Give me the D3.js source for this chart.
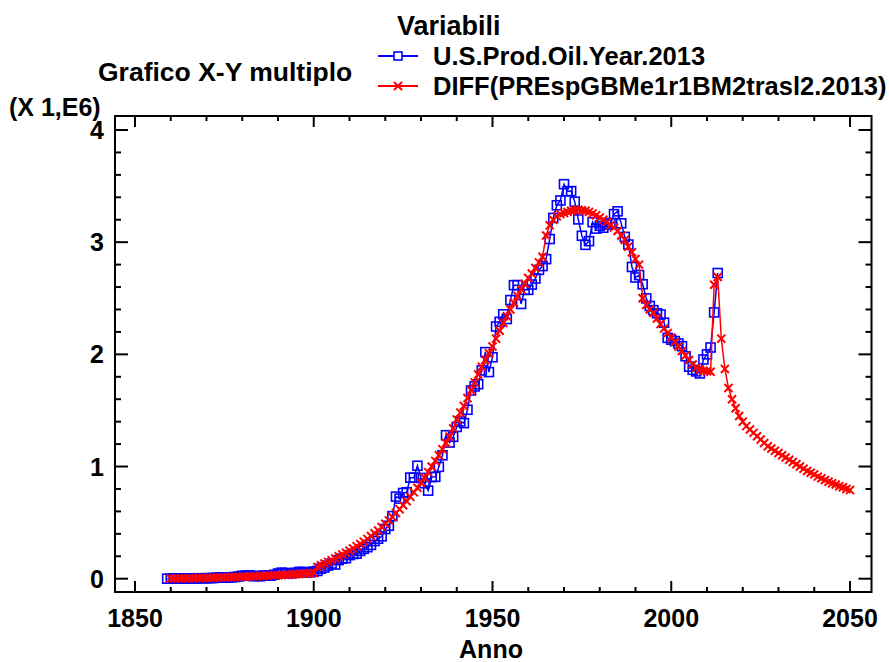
<!DOCTYPE html>
<html>
<head>
<meta charset="utf-8">
<script src="https://cdn.jsdelivr.net/npm/d3@7/dist/d3.min.js"></script>
<style>
  body { margin: 0; background: #fff; }
  text { font-family: "Liberation Sans", Arial, sans-serif; font-weight: bold; fill: #000; }
</style>
</head>
<body>
<svg id="chart" width="889" height="662"></svg>
<script>
// U.S. crude oil production per year (millions of thousand barrels), 1859-2013
const prodStart = 1859;
const prodValues = [
  0.000, 0.001, 0.002, 0.003, 0.003, 0.002, 0.002, 0.004, 0.003, 0.004,
  0.004, 0.005, 0.005, 0.006, 0.010, 0.011, 0.009, 0.009, 0.013, 0.015,
  0.020, 0.026, 0.028, 0.030, 0.023, 0.024, 0.022, 0.028, 0.028, 0.028,
  0.035, 0.046, 0.054, 0.051, 0.048, 0.049, 0.053, 0.061, 0.060, 0.055,
  0.057, 0.064, 0.069, 0.089, 0.100, 0.117, 0.135, 0.126, 0.166, 0.179,
  0.183, 0.210, 0.220, 0.223, 0.248, 0.266, 0.281, 0.301, 0.335, 0.356,
  0.378, 0.443, 0.472, 0.558, 0.732, 0.714, 0.764, 0.771, 0.901, 0.901,
  1.007, 0.898, 0.851, 0.785, 0.906, 0.908, 0.997, 1.100, 1.279, 1.214,
  1.265, 1.353, 1.402, 1.387, 1.506, 1.678, 1.714, 1.734, 1.857, 2.020,
  1.842, 1.974, 2.248, 2.290, 2.357, 2.315, 2.484, 2.617, 2.617, 2.449,
  2.575, 2.575, 2.622, 2.676, 2.753, 2.787, 2.849, 3.028, 3.216, 3.329,
  3.372, 3.517, 3.454, 3.455, 3.361, 3.203, 3.057, 2.976, 3.009, 3.178,
  3.121, 3.146, 3.129, 3.157, 3.171, 3.250, 3.275, 3.168, 3.047, 2.979,
  2.779, 2.685, 2.707, 2.625, 2.499, 2.431, 2.394, 2.366, 2.355, 2.282,
  2.147, 2.131, 2.118, 2.097, 2.073, 1.983, 1.890, 1.862, 1.848, 1.830,
  1.954, 2.000, 2.061, 2.374, 2.725
];

// Yearly differences of the fitted model, 1860-2050
const modelStart = 1860;
const modelValues = [
  // 1860-1899
  0.002, 0.002, 0.003, 0.003, 0.004, 0.004, 0.005, 0.005, 0.006, 0.007,
  0.007, 0.008, 0.009, 0.010, 0.011, 0.012, 0.013, 0.014, 0.015, 0.016,
  0.017, 0.018, 0.020, 0.021, 0.022, 0.024, 0.025, 0.027, 0.028, 0.030,
  0.031, 0.033, 0.034, 0.036, 0.038, 0.040, 0.042, 0.044, 0.046, 0.048,
  // 1900-1939
  0.050, 0.105, 0.120, 0.135, 0.150, 0.165, 0.180, 0.200, 0.215, 0.232,
  0.250, 0.270, 0.290, 0.310, 0.330, 0.355, 0.380, 0.405, 0.430, 0.460,
  0.490, 0.520, 0.550, 0.585, 0.620, 0.655, 0.690, 0.730, 0.770, 0.810,
  0.855, 0.900, 0.950, 1.000, 1.050, 1.100, 1.155, 1.210, 1.265, 1.340,
  // 1940-1979
  1.420, 1.480, 1.540, 1.610, 1.680, 1.750, 1.820, 1.890, 1.950, 2.010,
  2.070, 2.140, 2.210, 2.280, 2.340, 2.400, 2.460, 2.520, 2.580, 2.630,
  2.680, 2.720, 2.770, 2.820, 2.870, 3.060, 3.150, 3.200, 3.230, 3.250,
  3.260, 3.270, 3.280, 3.285, 3.290, 3.285, 3.280, 3.270, 3.255, 3.240,
  // 1980-2019
  3.220, 3.200, 3.180, 3.150, 3.130, 3.100, 3.060, 3.020, 2.960, 2.910,
  2.850, 2.800, 2.500, 2.440, 2.400, 2.370, 2.320, 2.270, 2.230, 2.190,
  2.150, 2.110, 2.070, 2.030, 1.990, 1.950, 1.910, 1.880, 1.865, 1.855,
  1.850, 1.845, 2.620, 2.690, 2.140, 1.870, 1.700, 1.600, 1.520, 1.450,
  // 2020-2050
  1.400, 1.360, 1.330, 1.300, 1.270, 1.240, 1.210, 1.180, 1.160, 1.140,
  1.120, 1.100, 1.080, 1.060, 1.040, 1.020, 1.000, 0.980, 0.960, 0.945,
  0.930, 0.910, 0.895, 0.880, 0.865, 0.850, 0.840, 0.825, 0.815, 0.800,
  0.790
];

const xTicks = [1850, 1900, 1950, 2000, 2050];
const yTicks = [0, 1, 2, 3, 4];
const seriesNames = ["U.S.Prod.Oil.Year.2013", "DIFF(PREspGBMe1r1BM2trasl2.2013)"];
const seriesColors = ["#0000ff", "#ff0000"];

const prod = prodValues.map((v, i) => ({ year: prodStart + i, value: v }));
const model = modelValues.map((v, i) => ({ year: modelStart + i, value: v }));

const svg = d3.select("#chart");
const frame = { left: 115, right: 871.5, top: 116, bottom: 592 };

const x = d3.scaleLinear().domain([1850, 2050]).range([135, 850]);
const y = d3.scaleLinear().domain([0, 4]).range([578.7, 130]);

// data layers
const line = d3.line().x(d => x(d.year)).y(d => y(d.value));
const sq = 9;

const gProd = svg.append("g");
gProd.append("path").datum(prod)
  .attr("d", line).attr("fill", "none")
  .attr("stroke", seriesColors[0]).attr("stroke-width", 1.5);
gProd.selectAll("rect").data(prod).join("rect")
  .attr("x", d => x(d.year) - sq / 2).attr("y", d => y(d.value) - sq / 2)
  .attr("width", sq).attr("height", sq)
  .attr("fill", "none").attr("stroke", seriesColors[0]).attr("stroke-width", 1.6);

const cross = d3.symbol().type(d3.symbolX).size(44);
const gModel = svg.append("g");
gModel.append("path").datum(model)
  .attr("d", line).attr("fill", "none")
  .attr("stroke", seriesColors[1]).attr("stroke-width", 1.5);
gModel.selectAll("path.mk").data(model).join("path")
  .attr("class", "mk")
  .attr("transform", d => `translate(${x(d.year)},${y(d.value)})`)
  .attr("d", cross)
  .attr("fill", "none").attr("stroke", seriesColors[1]).attr("stroke-width", 2);

// frame
svg.append("rect")
  .attr("x", frame.left).attr("y", frame.top)
  .attr("width", frame.right - frame.left).attr("height", frame.bottom - frame.top)
  .attr("fill", "none").attr("stroke", "#000").attr("stroke-width", 2);

// x ticks (bottom and top, pointing inward)
const xMinor = d3.range(1850, 2051, 10);
const xMajorLen = 11, xMinorLen = 5;
const gx = svg.append("g").attr("stroke", "#000").attr("stroke-width", 2);
xMinor.forEach(v => {
  const len = v % 50 === 0 ? xMajorLen : xMinorLen;
  gx.append("line").attr("x1", x(v)).attr("x2", x(v))
    .attr("y1", frame.bottom).attr("y2", frame.bottom - len);
  gx.append("line").attr("x1", x(v)).attr("x2", x(v))
    .attr("y1", frame.top).attr("y2", frame.top + len);
});
svg.append("g").selectAll("text").data(xTicks).join("text")
  .attr("x", d => x(d)).attr("y", 627)
  .attr("text-anchor", "middle").attr("font-size", 25)
  .text(d => d);

// y ticks (left and right, pointing inward)
const yMinor = d3.range(0, 21).map(i => i / 5).filter(v => y(v) > frame.top);
const yMajorLen = 13, yMinorLen = 6;
const gy = svg.append("g").attr("stroke", "#000").attr("stroke-width", 2);
yMinor.forEach(v => {
  const len = Math.abs(v - Math.round(v)) < 1e-9 ? yMajorLen : yMinorLen;
  gy.append("line").attr("x1", frame.left).attr("x2", frame.left + len)
    .attr("y1", y(v)).attr("y2", y(v));
  gy.append("line").attr("x1", frame.right).attr("x2", frame.right - len)
    .attr("y1", y(v)).attr("y2", y(v));
});
svg.append("g").selectAll("text").data(yTicks).join("text")
  .attr("x", 104).attr("y", d => y(d) + 9)
  .attr("text-anchor", "end").attr("font-size", 25)
  .text(d => d);

// titles
svg.append("text").attr("x", 98).attr("y", 81).attr("font-size", 26.5).text("Grafico X-Y multiplo");
svg.append("text").attr("x", 9).attr("y", 116).attr("font-size", 25).text("(X 1,E6)");
svg.append("text").attr("x", 491).attr("y", 658).attr("text-anchor", "middle").attr("font-size", 25).text("Anno");

// legend
svg.append("text").attr("x", 397).attr("y", 35).attr("font-size", 27).text("Variabili");
const legend = svg.append("g");
const legRows = [56, 86];
seriesNames.forEach((name, i) => {
  const ly = legRows[i];
  legend.append("line").attr("x1", 378).attr("x2", 418).attr("y1", ly).attr("y2", ly)
    .attr("stroke", seriesColors[i]).attr("stroke-width", 2);
  if (i === 0) {
    legend.append("rect").attr("x", 394).attr("y", ly - 4).attr("width", 8).attr("height", 8)
      .attr("fill", "#fff").attr("stroke", seriesColors[i]).attr("stroke-width", 1.6);
  } else {
    legend.append("path").attr("transform", `translate(398,${ly})`).attr("d", cross)
      .attr("fill", "none").attr("stroke", seriesColors[i]).attr("stroke-width", 2);
  }
  legend.append("text").attr("x", 433).attr("y", ly + 9).attr("font-size", 25.5).text(name);
});
</script>
</body>
</html>
